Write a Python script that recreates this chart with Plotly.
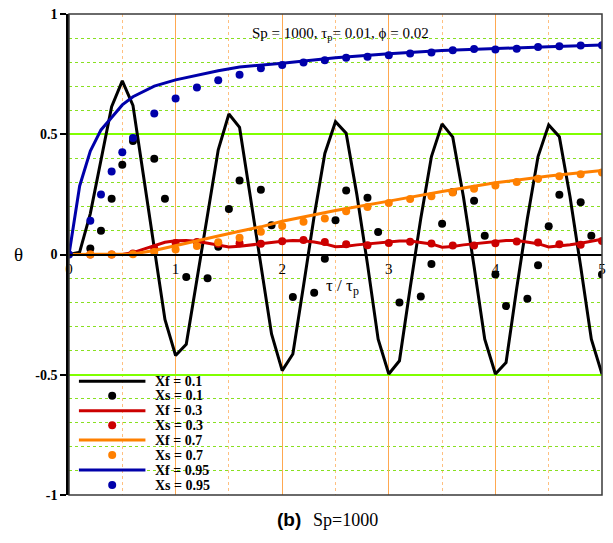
import plotly.graph_objects as go

# ---------------- data ----------------
xf01_x = [round(0.1 * i, 1) for i in range(51)]
xf01_y = [0, 0.01, 0.17, 0.39, 0.615, 0.722, 0.62, 0.323, 0.027, -0.27,
          -0.42, -0.373, -0.104, 0.166, 0.435, 0.584, 0.529, 0.243, -0.043, -0.33,
          -0.483, -0.414, -0.13, 0.16, 0.42, 0.552, 0.504, 0.25, -0.04, -0.352,
          -0.497, -0.442, -0.14, 0.15, 0.407, 0.543, 0.488, 0.24, -0.05, -0.352,
          -0.497, -0.449, -0.14, 0.15, 0.407, 0.539, 0.49, 0.24, -0.05, -0.352,
          -0.497]

xs01_x = [0.2, 0.3, 0.4, 0.5, 0.6, 0.8, 0.9, 1.1, 1.3, 1.4, 1.5, 1.6, 1.8, 1.9,
          2.1, 2.3, 2.4, 2.5, 2.6, 2.8, 2.9, 3.1, 3.3, 3.4, 3.5, 3.6, 3.8, 3.9,
          4.0, 4.1, 4.3, 4.4, 4.5, 4.6, 4.8, 4.9, 5.0]
xs01_y = [0.025, 0.099, 0.232, 0.373, 0.472, 0.398, 0.232, -0.094, -0.099, 0.032,
          0.189, 0.308, 0.269, 0.122, -0.177, -0.159, -0.018, 0.142, 0.266, 0.236,
          0.094, -0.2, -0.175, -0.039, 0.128, 0.26, 0.224, 0.078, -0.083, -0.214,
          -0.184, -0.045, 0.117, 0.248, 0.217, 0.078, -0.083]

xf03_x = [0, 0.5, 0.6, 0.7, 0.8, 0.9, 1.0, 1.1, 1.2, 1.3, 1.4, 1.5, 1.6, 1.7, 1.8,
          1.9, 2.0, 2.1, 2.2, 2.3, 2.4, 2.5, 2.6, 2.7, 2.8, 2.9, 3.0, 3.1, 3.2,
          3.3, 3.4, 3.5, 3.6, 3.7, 3.8, 3.9, 4.0, 4.1, 4.2, 4.3, 4.4, 4.5, 4.6,
          4.7, 4.8, 4.9, 5.0]
xf03_y = [0, 0, 0.008, 0.022, 0.038, 0.051, 0.057, 0.058, 0.055, 0.046, 0.037,
          0.031, 0.034, 0.04, 0.045, 0.05, 0.055, 0.058, 0.057, 0.052, 0.044,
          0.032, 0.034, 0.04, 0.044, 0.048, 0.052, 0.056, 0.056, 0.051, 0.044,
          0.03, 0.033, 0.04, 0.045, 0.05, 0.054, 0.058, 0.058, 0.052, 0.045,
          0.031, 0.035, 0.041, 0.047, 0.055, 0.063]

xs03_x = [0.2, 0.4, 0.6, 0.8, 1.0, 1.2, 1.4, 1.6, 1.8, 2.0, 2.2, 2.4, 2.6, 2.8,
          3.0, 3.2, 3.4, 3.6, 3.8, 4.0, 4.2, 4.4, 4.6, 4.8, 5.0]
xs03_y = [0, 0, 0.004, 0.025, 0.048, 0.052, 0.045, 0.047, 0.045, 0.055, 0.06,
          0.052, 0.043, 0.038, 0.048, 0.053, 0.046, 0.037, 0.037, 0.047, 0.054,
          0.05, 0.043, 0.041, 0.056]

xf07_x = [0, 0.5, 0.6, 0.8, 1.0, 1.2, 1.4, 1.6, 1.8, 2.0, 2.2, 2.5, 3.0, 3.5,
          4.0, 4.5, 5.0]
xf07_y = [0, 0, 0.002, 0.017, 0.036, 0.057, 0.077, 0.097, 0.115, 0.138, 0.157,
          0.183, 0.222, 0.262, 0.298, 0.326, 0.349]

xs07_x = [0.2, 0.4, 0.6, 0.8, 1.0, 1.2, 1.4, 1.6, 1.8, 2.0, 2.2, 2.4, 2.6, 2.8,
          3.0, 3.2, 3.4, 3.6, 3.8, 4.0, 4.2, 4.4, 4.6, 4.8, 5.0]
xs07_y = [0, 0, 0.001, 0.01, 0.021, 0.035, 0.051, 0.07, 0.095, 0.118, 0.136,
          0.15, 0.18, 0.198, 0.214, 0.231, 0.242, 0.258, 0.273, 0.287, 0.301,
          0.315, 0.325, 0.334, 0.341]

xf095_x = [0, 0.05, 0.1, 0.2, 0.3, 0.4, 0.5, 0.6, 0.8, 1.0, 1.2, 1.4, 1.6, 2.0,
           2.5, 3.0, 3.5, 4.0, 4.5, 5.0]
xf095_y = [0, 0.15, 0.285, 0.43, 0.518, 0.57, 0.622, 0.656, 0.70, 0.726, 0.746,
           0.764, 0.78, 0.795, 0.818, 0.835, 0.848, 0.857, 0.864, 0.871]

xs095_x = [0, 0.2, 0.3, 0.4, 0.5, 0.6, 0.8, 1.0, 1.2, 1.4, 1.6, 1.8, 2.0, 2.2,
           2.4, 2.6, 2.8, 3.0, 3.2, 3.4, 3.6, 3.8, 4.0, 4.2, 4.4, 4.6, 4.8, 5.0]
xs095_y = [0, 0.14, 0.25, 0.345, 0.425, 0.484, 0.586, 0.649, 0.694, 0.725, 0.747,
           0.774, 0.788, 0.798, 0.808, 0.818, 0.822, 0.829, 0.836, 0.84, 0.849,
           0.854, 0.852, 0.856, 0.863, 0.866, 0.869, 0.870]

x_ticks = [0, 1, 2, 3, 4, 5]
y_ticks = [-1, -0.5, 0, 0.5, 1]
y_ticktext = ["-1", "-0.5", "0", "0.5", "1"]

legend_names = ["Xf = 0.1", "Xs = 0.1", "Xf = 0.3", "Xs = 0.3",
                "Xf = 0.7", "Xs = 0.7", "Xf = 0.95", "Xs = 0.95"]

BLACK = "#000000"
RED = "#cc0000"
ORANGE = "#ff8000"
BLUE = "#0000aa"
SERIF = "Liberation Serif"

series = [
    (xf01_x, xf01_y, "lines", BLACK),
    (xs01_x, xs01_y, "markers", BLACK),
    (xf03_x, xf03_y, "lines", RED),
    (xs03_x, xs03_y, "markers", RED),
    (xf07_x, xf07_y, "lines", ORANGE),
    (xs07_x, xs07_y, "markers", ORANGE),
    (xf095_x, xf095_y, "lines", BLUE),
    (xs095_x, xs095_y, "markers", BLUE),
]

fig = go.Figure()
draw_order = [1, 0, 3, 2, 5, 4, 6, 7]
for i in draw_order:
    xs, ys, mode, col = series[i]
    if mode == "lines":
        fig.add_trace(go.Scatter(x=xs, y=ys, mode="lines", name=legend_names[i],
                                 line=dict(color=col, width=3), showlegend=False))
    else:
        fig.add_trace(go.Scatter(x=xs, y=ys, mode="markers", name=legend_names[i],
                                 marker=dict(color=col, size=8), showlegend=False))

W, H = 613, 543
ML, MR, MT, MB = 69, 7, 13, 48
PW, PH = W - ML - MR, H - MT - MB


def px_x(p):
    return (p - ML) / PW


def px_y(p):
    return (H - MB - p) / PH


shapes = [dict(type="rect", xref="paper", yref="paper", x0=0, x1=1, y0=0, y1=1,
               line=dict(color="#3a3a3a", width=1.5), layer="above")]
annotations = []

# manual legend
row_px = [381, 395.5, 410.5, 425, 440, 455, 470, 485]
for i, name in enumerate(legend_names):
    col = series[i][3]
    yp = px_y(row_px[i])
    if series[i][2] == "lines":
        shapes.append(dict(type="line", xref="paper", yref="paper",
                           x0=px_x(79), x1=px_x(146), y0=yp, y1=yp,
                           line=dict(color=col, width=3)))
    else:
        shapes.append(dict(type="circle", xref="paper", yref="paper",
                           xsizemode="pixel", ysizemode="pixel",
                           xanchor=px_x(112.5), yanchor=yp,
                           x0=-4, x1=4, y0=-4, y1=4,
                           fillcolor=col, line=dict(color=col, width=0)))
    annotations.append(dict(xref="paper", yref="paper", x=px_x(155), y=yp,
                            xanchor="left", yanchor="middle", showarrow=False,
                            text=name, borderpad=0,
                            font=dict(family=SERIF, size=14, color="black",
                                      weight="bold")))

annotations += [
    dict(xref="paper", yref="paper", x=px_x(343), y=px_y(33),
         text="Sp = 1000, τ<sub>p</sub>= 0.01, ϕ = 0.02", showarrow=False,
         xanchor="center", yanchor="middle",
         font=dict(family=SERIF, size=15, color="black")),
    dict(xref="paper", yref="paper", x=px_x(345), y=px_y(287),
         text="τ / τ<sub>p</sub>", showarrow=False,
         xanchor="center", yanchor="middle",
         font=dict(family=SERIF, size=17, color="black")),
    dict(xref="paper", yref="paper", x=px_x(18), y=px_y(254),
         text="θ", showarrow=False, xanchor="center", yanchor="middle",
         font=dict(family=SERIF, size=19, color="black")),
    dict(xref="paper", yref="paper", x=px_x(305), y=px_y(520),
         text="(b)", showarrow=False, xanchor="right", yanchor="middle",
         font=dict(family="Liberation Sans", size=19, color="black",
                   weight="bold")),
    dict(xref="paper", yref="paper", x=px_x(313), y=px_y(520),
         text="Sp=1000", showarrow=False, xanchor="left", yanchor="middle",
         font=dict(family=SERIF, size=18, color="black")),
]

fig.update_layout(
    width=W, height=H,
    margin=dict(l=ML, r=MR, t=MT, b=MB, pad=0),
    paper_bgcolor="white", plot_bgcolor="white",
    showlegend=False,
    shapes=shapes, annotations=annotations,
    xaxis=dict(range=[0, 5], tickvals=x_ticks, ticks="",
               anchor="free", position=0.5,
               showline=True, linecolor="black", linewidth=2,
               showgrid=True, gridcolor="#ffa850", gridwidth=1,
               zeroline=False,
               minor=dict(dtick=0.5, showgrid=True, gridcolor="#ffc080",
                          griddash="dot", gridwidth=1),
               tickfont=dict(family=SERIF, size=15, color="black")),
    yaxis=dict(range=[-1, 1], tickvals=y_ticks, ticktext=y_ticktext,
               ticks="outside", ticklen=6, tickwidth=2, tickcolor="black",
               showline=True, linecolor="black", linewidth=2.5,
               showgrid=True, gridcolor="#80ff00", gridwidth=1.5,
               zeroline=False,
               minor=dict(dtick=0.1, showgrid=True, gridcolor="#88e020",
                          griddash="dot", gridwidth=1),
               tickfont=dict(family=SERIF, size=14, color="black",
                             weight="bold")),
)

fig.write_html("out.html")
